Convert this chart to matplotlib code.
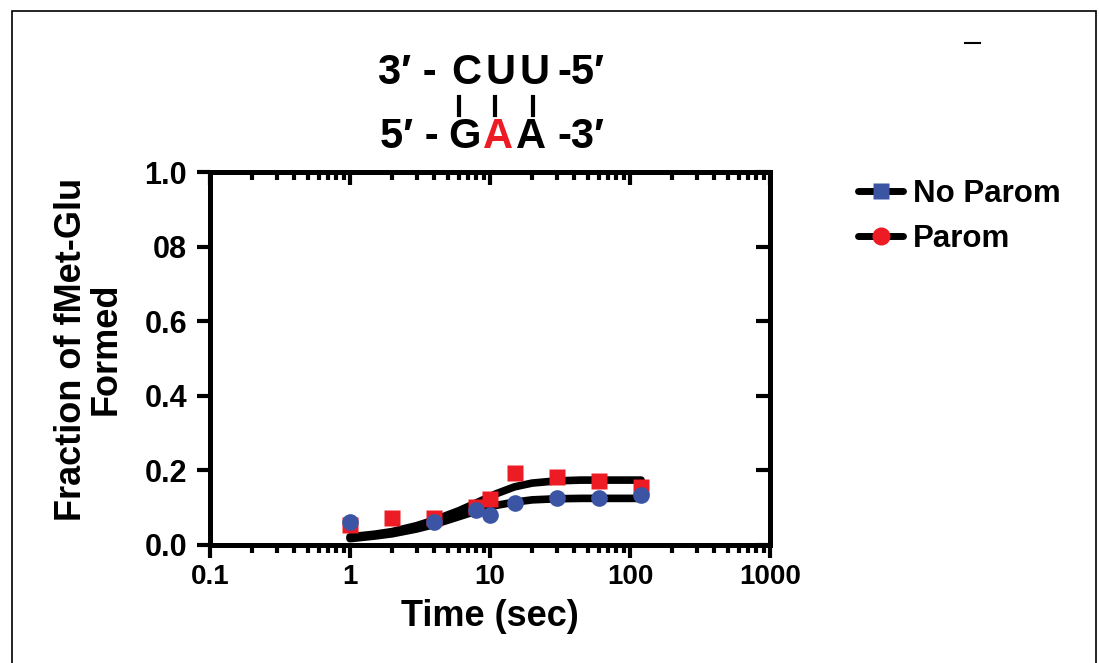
import numpy as np
import matplotlib.pyplot as plt
from matplotlib.lines import Line2D
from matplotlib.patches import Rectangle

# ---------------- datos ----------------
tiempo_parom = [1, 2, 4, 8, 10, 15, 30, 60, 120]
frac_parom = [0.054, 0.072, 0.073, 0.103, 0.122, 0.194, 0.181, 0.172, 0.156]

tiempo_noparom = [1, 4, 8, 10, 15, 30, 60, 120]
frac_noparom = [0.061, 0.062, 0.094, 0.080, 0.113, 0.125, 0.125, 0.134]

# curvas de ajuste
t_ajuste = [1, 1.5, 2, 3, 4, 6, 8, 11, 15, 20, 30, 45, 60, 90, 120]
ajuste_parom = [0.022, 0.029, 0.036, 0.052, 0.067, 0.092, 0.113, 0.137, 0.156,
                0.166, 0.172, 0.174, 0.174, 0.174, 0.174]
ajuste_noparom = [0.017, 0.024, 0.030, 0.043, 0.055, 0.076, 0.091, 0.106, 0.115,
                  0.121, 0.124, 0.125, 0.125, 0.125, 0.125]

xticks = [0.1, 1, 10, 100, 1000]
xtick_labels = ["0.1", "1", "10", "100", "1000"]
yticks = [0.0, 0.2, 0.4, 0.6, 0.8, 1.0]
ytick_labels = ["0.0", "0.2", "0.4", "0.6", "08", "1.0"]

rojo = '#ED1C24'
azul = '#3B54A4'

plt.rcParams['font.family'] = ['Liberation Sans', 'DejaVu Sans']
plt.rcParams['font.weight'] = 'bold'

W, H = 1099, 663
fig = plt.figure(figsize=(W / 100, H / 100), dpi=100)

def fx(x):
    return x / W

def fy(y):
    return 1 - y / H

ax = fig.add_axes([fx(210), 118 / H, 560 / W, 373 / H])

# ---------------- curvas y puntos ----------------
ax.plot(t_ajuste, ajuste_parom, color='black', lw=5.5, solid_capstyle='round', zorder=2)
ax.plot(t_ajuste, ajuste_noparom, color='black', lw=5.5, solid_capstyle='round', zorder=2)
ax.plot(tiempo_parom, frac_parom, 's', color=rojo, ms=11, mec='none', zorder=3)
ax.plot(tiempo_noparom, frac_noparom, 'o', color=azul, ms=12, mec='none', zorder=4)

ax.set_xscale('log')
ax.set_xlim(0.1, 1000)
ax.set_ylim(0, 1)

for s in ax.spines.values():
    s.set_linewidth(3.6)

ax.set_xticks(xticks)
ax.set_xticklabels(xtick_labels, fontsize=20, fontweight='bold')
ax.set_yticks(yticks)
ax.set_yticklabels(ytick_labels, fontsize=22, fontweight='bold')
ax.tick_params(axis='x', which='major', direction='out', length=9, width=3, pad=5, top=False)
ax.tick_params(axis='x', which='minor', direction='out', length=6, width=3, top=False)
ax.tick_params(axis='y', which='both', direction='out', length=9.5, width=3, pad=7, right=False)
ax.yaxis.set_minor_locator(plt.NullLocator())

# ejes secundarios con ticks hacia adentro
arriba = ax.secondary_xaxis('top')
arriba.set_xticks(xticks)
arriba.tick_params(axis='x', which='major', direction='in', length=9, width=3, labeltop=False)
arriba.tick_params(axis='x', which='minor', direction='in', length=6, width=3)
arriba.spines['top'].set_linewidth(3.6)

derecha = ax.secondary_yaxis('right')
derecha.set_yticks(yticks)
derecha.tick_params(axis='y', direction='in', length=10, width=3, labelright=False)
derecha.spines['right'].set_linewidth(3.6)

ax.set_xlabel("Time (sec)", fontsize=26, fontweight='bold', labelpad=6)
ax.set_ylabel("Fraction of fMet-Glu\nFormed", fontsize=26, fontweight='bold', linespacing=1.0)
ax.yaxis.set_label_coords(-0.154, 0.525)

# ---------------- leyenda ----------------
manijas = [
    Line2D([], [], color='black', lw=5, marker='s', ms=12, mfc=azul, mec='none', solid_capstyle='round'),
    Line2D([], [], color='black', lw=5, marker='o', ms=13, mfc=rojo, mec='none', solid_capstyle='round'),
]
fig.legend(manijas, ["No Parom", "Parom"], loc='upper left', bbox_to_anchor=(fx(858), fy(179)),
           frameon=False, prop={'weight': 'bold', 'size': 22.5},
           handlelength=1.45, handletextpad=0.3, labelspacing=0.48,
           borderpad=0, borderaxespad=0)

# ---------------- titulo (duplex) ----------------
tam = 30
fig.text(fx(378), fy(73), "3\u2032 -", fontsize=tam, ha='left', va='center', fontweight='bold')
for letra, xc in zip("CUU", [466, 501, 534]):
    fig.text(fx(xc), fy(73), letra, fontsize=tam, ha='center', va='center', fontweight='bold')
fig.text(fx(557), fy(73), "-5\u2032", fontsize=tam, ha='left', va='center', fontweight='bold')

fig.text(fx(380), fy(137), "5\u2032 -", fontsize=tam, ha='left', va='center', fontweight='bold')
for letra, xc, col in zip("GAA", [465, 498, 531], ['black', rojo, 'black']):
    fig.text(fx(xc), fy(137), letra, fontsize=tam, ha='center', va='center', fontweight='bold', color=col)
fig.text(fx(557), fy(137), "-3\u2032", fontsize=tam, ha='left', va='center', fontweight='bold')

for xb in [459, 495, 533]:
    fig.add_artist(Line2D([fx(xb), fx(xb)], [fy(97), fy(115)], color='black', lw=3))

# marca suelta arriba a la derecha
fig.add_artist(Line2D([fx(965), fx(980)], [fy(43), fy(43)], color='black', lw=1.5))

# marco exterior
fig.add_artist(Rectangle((fx(12), -0.02), fx(1096) - fx(12), fy(11) + 0.02,
                         transform=fig.transFigure, fill=False, ec='black', lw=1.2))

fig.savefig("out.png", dpi=100)
